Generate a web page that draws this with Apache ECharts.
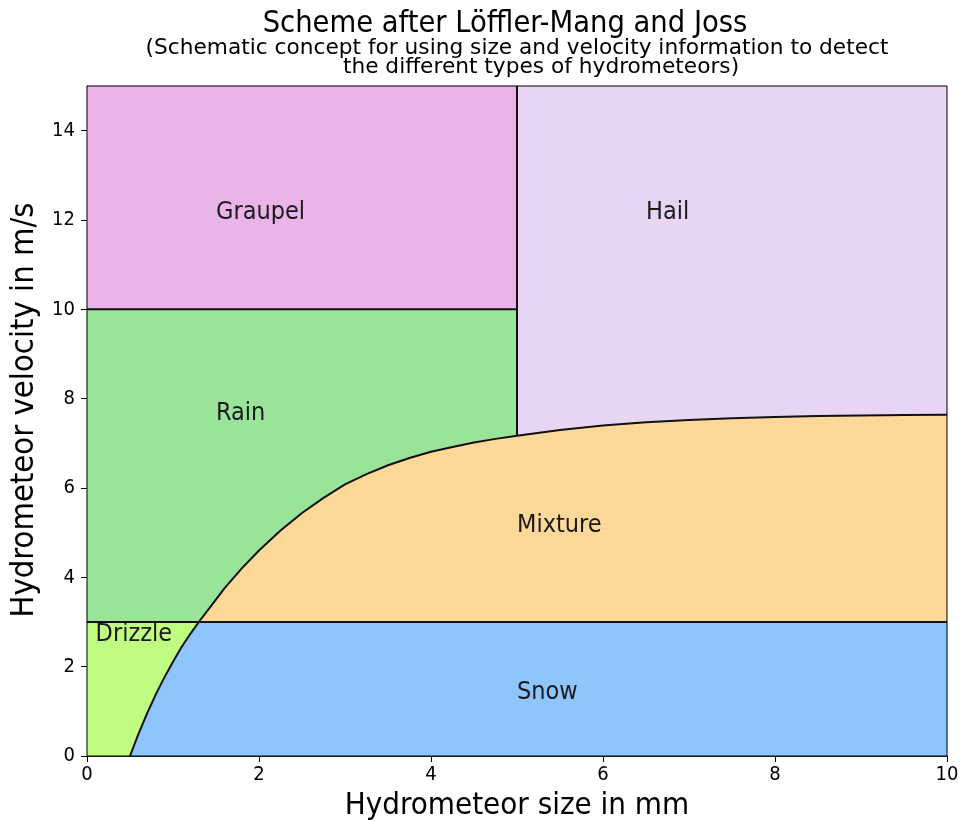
<!DOCTYPE html>
<html>
<head>
<meta charset="utf-8">
<script src="https://cdn.jsdelivr.net/npm/echarts@6/dist/echarts.min.js"></script>
<style>html,body{margin:0;padding:0;background:#fff;overflow:hidden}#c{width:962px;height:821px}</style>
</head>
<body>
<div id="c"></div>
<script>
// ---- data ----
const curveSize = [0.5, 0.6, 0.7, 0.8, 0.9, 1.0, 1.1, 1.2, 1.3, 1.45, 1.6, 1.8, 2.0, 2.25, 2.5, 2.75, 3.0, 3.25, 3.5, 3.75, 4.0, 4.25, 4.5, 4.75, 5.0, 5.5, 6.0, 6.5, 7.0, 7.5, 8.0, 8.5, 9.0, 9.5, 10.0];
const curveVelocity = [0, 0.5, 0.96, 1.38, 1.76, 2.11, 2.44, 2.73, 3.0, 3.38, 3.76, 4.2, 4.6, 5.05, 5.44, 5.78, 6.08, 6.31, 6.51, 6.67, 6.81, 6.92, 7.02, 7.1, 7.17, 7.3, 7.4, 7.47, 7.52, 7.56, 7.59, 7.61, 7.625, 7.635, 7.64];
const snowLimit = 3;      // m/s, drizzle/snow upper bound
const rainLimit = 10;     // m/s, rain upper bound
const hailSize = 5;       // mm, hail lower size bound
const sizeMax = 10;
const velocityMax = 15;
const xTicks = [0, 2, 4, 6, 8, 10];
const yTicks = [0, 2, 4, 6, 8, 10, 12, 14];
const regionNames = ['Drizzle', 'Snow', 'Mixture', 'Rain', 'Hail', 'Graupel'];
const labelNames = ['Graupel', 'Hail', 'Rain', 'Mixture', 'Drizzle', 'Snow'];
const labelSize = [1.5, 6.5, 1.5, 5, 0.1, 5];
const labelVelocity = [12, 12, 7.5, 5, 2.55, 1.25];

// ---- styles ----
const regionColors = {
  Drizzle: '#bffc81', Snow: '#8fc5fd', Mixture: '#fdd898',
  Rain: '#99e499', Hail: '#e8d4f3', Graupel: '#ebb4e9'
};
const FONT = '"DejaVu Sans Condensed", "DejaVu Sans", sans-serif';
const FONT_REG = '"DejaVu Sans", sans-serif';

// ---- geometry built from data ----
const curve = curveSize.map((x, i) => [x, curveVelocity[i]]);
const crossIdx = curveVelocity.indexOf(snowLimit);
const hailIdx = curveSize.indexOf(hailSize);
const cLow = curve.slice(0, crossIdx + 1);
const cMid = curve.slice(crossIdx, hailIdx + 1);
const cHigh = curve.slice(hailIdx);
const cUpper = curve.slice(crossIdx);

const polygons = {
  Drizzle: [[0, 0]].concat(cLow, [[0, snowLimit]]),
  Snow: cLow.concat([[sizeMax, snowLimit], [sizeMax, 0]]),
  Mixture: cUpper.concat([[sizeMax, snowLimit]]),
  Rain: [[0, snowLimit]].concat(cMid, [[hailSize, rainLimit], [0, rainLimit]]),
  Hail: cHigh.concat([[sizeMax, velocityMax], [hailSize, velocityMax]]),
  Graupel: [[0, rainLimit], [hailSize, rainLimit], [hailSize, velocityMax], [0, velocityMax]]
};

const boundaryLines = [
  curve,
  [[0, snowLimit], [sizeMax, snowLimit]],
  [[0, rainLimit], [hailSize, rainLimit]],
  [[hailSize, curveVelocity[hailIdx]], [hailSize, velocityMax]]
];

const chart = echarts.init(document.getElementById('c'));

const lineSeries = boundaryLines.map(pts => ({
  type: 'line', data: pts, showSymbol: false, symbol: 'none', silent: true,
  lineStyle: { color: '#111', width: 2 }, z: 3, animation: false
}));

chart.setOption({
  animation: false,
  backgroundColor: '#fff',
  grid: { left: 87, right: 15, top: 86, bottom: 65, outerBoundsMode: 'none', containLabel: false, show: true, borderColor: '#000', borderWidth: 1, backgroundColor: 'transparent', z: 10 },
  xAxis: {
    type: 'value', min: 0, max: sizeMax,
    name: 'Hydrometeor size in mm', nameLocation: 'middle', nameGap: 34,
    nameTextStyle: { fontSize: 31, color: '#000', fontFamily: FONT },
    axisLine: { show: true, lineStyle: { color: '#000', width: 1 } },
    axisTick: { show: true, inside: false, length: 6, lineStyle: { color: '#000' }, customValues: xTicks },
    axisLabel: { fontSize: 20, color: '#000', margin: 9, fontFamily: FONT, customValues: xTicks },
    splitLine: { show: false }
  },
  yAxis: {
    type: 'value', min: 0, max: velocityMax,
    name: 'Hydrometeor velocity in m/s', nameLocation: 'middle', nameGap: 44, nameRotate: 90,
    nameTextStyle: { fontSize: 32.5, color: '#000', fontFamily: FONT, padding: [0, 0, 0, 22] },
    axisLine: { show: true, lineStyle: { color: '#000', width: 1 } },
    axisTick: { show: true, inside: false, length: 6, lineStyle: { color: '#000' }, customValues: yTicks },
    axisLabel: { fontSize: 20, color: '#000', margin: 12, fontFamily: FONT, customValues: yTicks },
    splitLine: { show: false }
  },
  graphic: [
    { type: 'text', x: 505, y: 24, silent: true,
      style: { text: 'Scheme after Löffler-Mang and Joss', fontSize: 30.5, fontFamily: FONT, fill: '#000', align: 'center', verticalAlign: 'middle', textAlign: 'center', textVerticalAlign: 'middle' } },
    { type: 'text', x: 517, y: 48, silent: true,
      style: { text: '(Schematic concept for using size and velocity information to detect', fontSize: 21.7, fontFamily: FONT_REG, fill: '#000', align: 'center', verticalAlign: 'middle', textAlign: 'center', textVerticalAlign: 'middle' } },
    { type: 'text', x: 541, y: 67, silent: true,
      style: { text: 'the different types of hydrometeors)', fontSize: 21.7, fontFamily: FONT_REG, fill: '#000', align: 'center', verticalAlign: 'middle', textAlign: 'center', textVerticalAlign: 'middle' } }
  ],
  series: [
    {
      type: 'custom', coordinateSystem: 'cartesian2d', silent: true, z: 1,
      data: regionNames.map((n, i) => [i, 0]),
      renderItem: function (params, api) {
        const name = regionNames[params.dataIndex];
        return {
          type: 'polygon',
          shape: { points: polygons[name].map(p => api.coord(p)) },
          style: { fill: regionColors[name], stroke: regionColors[name], lineWidth: 0.5 }
        };
      }
    },
    ...lineSeries,
    {
      type: 'custom', coordinateSystem: 'cartesian2d', silent: true, z: 5, clip: false,
      data: labelNames.map((n, i) => [labelSize[i], labelVelocity[i]]),
      renderItem: function (params, api) {
        const pt = api.coord([api.value(0), api.value(1)]);
        return {
          type: 'text', x: pt[0], y: pt[1] - 7.4,
          style: { text: labelNames[params.dataIndex], fontSize: 25, fontFamily: FONT, fill: '#1a1a1a', align: 'left', verticalAlign: 'middle', textAlign: 'left', textVerticalAlign: 'middle' }
        };
      }
    }
  ]
});
</script>
</body>
</html>
